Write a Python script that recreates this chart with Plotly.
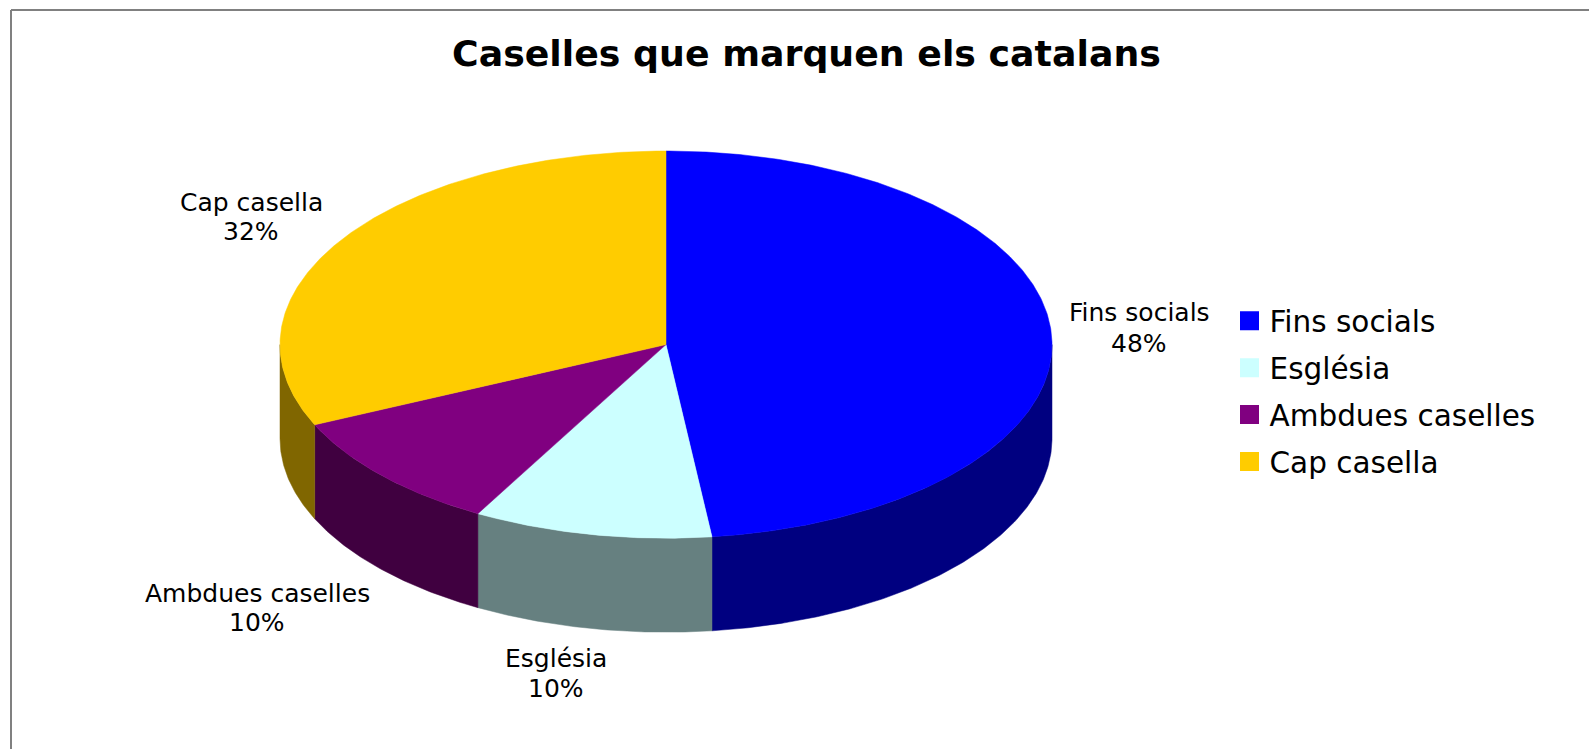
import math
import plotly.graph_objects as go

categories = ["Fins socials", "Església", "Ambdues caselles", "Cap casella"]
shares = [48.1, 10.0, 10.1, 31.8]
top_colors = ["#0000FF", "#CCFFFF", "#800080", "#FFCC00"]
side_colors = ["#000080", "#668080", "#400040", "#806600"]
label_xy = [(1139, 312, 343), (556, 658, 688), (257, 593, 622), (251, 202, 231)]

W, H = 1589, 749
CX, CY, RX, RY, DEPTH = 666, 344.6, 386, 193.6, 94


def pt(deg, dy=0):
    a = math.radians(deg)
    return CX + RX * math.sin(a), CY - RY * math.cos(a) + dy


def arc(a0, a1):
    n = max(2, int(abs(a1 - a0) * 2))
    return [a0 + (a1 - a0) * i / n for i in range(n + 1)]


fig = go.Figure()
edges = []
acc = 0
for s in shares:
    edges.append((acc * 3.6, (acc + s) * 3.6))
    acc += s

# side walls: only the visible (front) half, 90..270 degrees
for (a0, a1), c in zip(edges, side_colors):
    lo, hi = max(a0, 90), min(a1, 270)
    if lo >= hi:
        continue
    ang = arc(lo, hi)
    upper = [pt(t) for t in ang]
    lower = [pt(t, DEPTH) for t in reversed(ang)]
    poly = upper + lower + upper[:1]
    fig.add_trace(go.Scatter(x=[p[0] for p in poly], y=[p[1] for p in poly], mode="lines",
                             fill="toself", fillcolor=c, line=dict(color=c, width=0.5),
                             showlegend=False, hoverinfo="skip"))

# top faces
for (a0, a1), c, name, s in zip(edges, top_colors, categories, shares):
    poly = [(CX, CY)] + [pt(t) for t in arc(a0, a1)] + [(CX, CY)]
    fig.add_trace(go.Scatter(x=[p[0] for p in poly], y=[p[1] for p in poly], mode="lines",
                             fill="toself", fillcolor=c, line=dict(color=c, width=0.5),
                             showlegend=False, name=name, hoverinfo="skip"))

# legend entries
for name, c in zip(categories, top_colors):
    fig.add_trace(go.Scatter(x=[None], y=[None], mode="markers", name=name, legendgroup=name,
                             marker=dict(symbol="square", size=16, color=c, line=dict(color=c, width=3))))

ann = []
for name, s, (lx, y1, y2) in zip(categories, shares, label_xy):
    for txt, yy in ((name, y1), (f"{s:.0f}%", y2)):
        ann.append(dict(x=lx, y=yy, xref="x", yref="y", text=txt, showarrow=False,
                        xanchor="center", yanchor="middle",
                        font=dict(family="DejaVu Sans", size=25, color="black")))
ann.append(dict(x=806, y=53, xref="x", yref="y", text="<b>Caselles que marquen els catalans</b>",
                showarrow=False, xanchor="center", yanchor="middle",
                font=dict(family="DejaVu Sans", size=36.3, color="black")))

fig.update_layout(
    width=W, height=H, margin=dict(l=0, r=0, t=0, b=0),
    paper_bgcolor="white", plot_bgcolor="white",
    xaxis=dict(range=[0, W], visible=False, fixedrange=True),
    yaxis=dict(range=[H, 0], visible=False, fixedrange=True),
    annotations=ann,
    shapes=[
        dict(type="line", xref="x", yref="y", x0=11, x1=W, y0=10, y1=10, line=dict(color="#808080", width=2)),
        dict(type="line", xref="x", yref="y", x0=11, x1=11, y0=10, y1=H, line=dict(color="#808080", width=2)),
    ],
    legend=dict(x=1229.5 / W, y=1 - 295 / H, xanchor="left", yanchor="top", tracegroupgap=5.6,
                traceorder="grouped", bgcolor="rgba(0,0,0,0)",
                font=dict(family="DejaVu Sans", size=29.5, color="black")),
    showlegend=True,
)
fig.write_html("out.html", config={"displayModeBar": False},
               post_script="document.body.style.margin='0';document.body.style.overflow='hidden';")
